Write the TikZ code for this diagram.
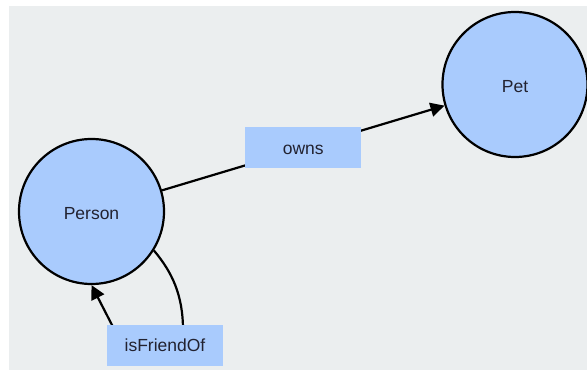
\documentclass[tikz,border=0pt]{standalone}
\usepackage{fontspec}
\setmainfont{Liberation Sans}
\usetikzlibrary{arrows.meta}
\definecolor{bgc}{HTML}{EBEEEF}
\definecolor{nodec}{HTML}{A9CBFD}
\definecolor{txtc}{HTML}{222230}
\tikzset{
  ent/.style={circle, draw=black, line width=2.2pt, fill=nodec, minimum size=145pt, inner sep=0pt, text=txtc, font=\fontsize{17.5}{20}\selectfont, text height=16pt, text depth=0pt},
  lbl/.style={rectangle, fill=nodec, minimum width=116pt, minimum height=41pt, inner sep=0pt, text=txtc, font=\fontsize{17.5}{20}\selectfont, text height=12.5pt, text depth=0pt},
  rel/.style={line width=2.2pt, -{Triangle[length=14pt,width=14pt]}}
}
\begin{document}
\begin{tikzpicture}[x=1pt,y=-1pt]
\useasboundingbox (0,0) rectangle (587,371);
\fill[bgc] (9,6) rectangle (587,370);
\node[ent] (person) at (91.5,211.5) {Person};
\node[ent] (pet) at (515,84.5) {Pet};
\draw[rel] (person) -- node[lbl] (owns) {owns} (pet);
\draw[rel] (person.-32) .. controls (172,272) and (183,295) .. (183,330)
  .. controls (183,350) and (120,345) .. (112,325) -- (person.south);
\node[lbl] (friend) at (165,345.5) {isFriendOf};
\end{tikzpicture}
\end{document}
